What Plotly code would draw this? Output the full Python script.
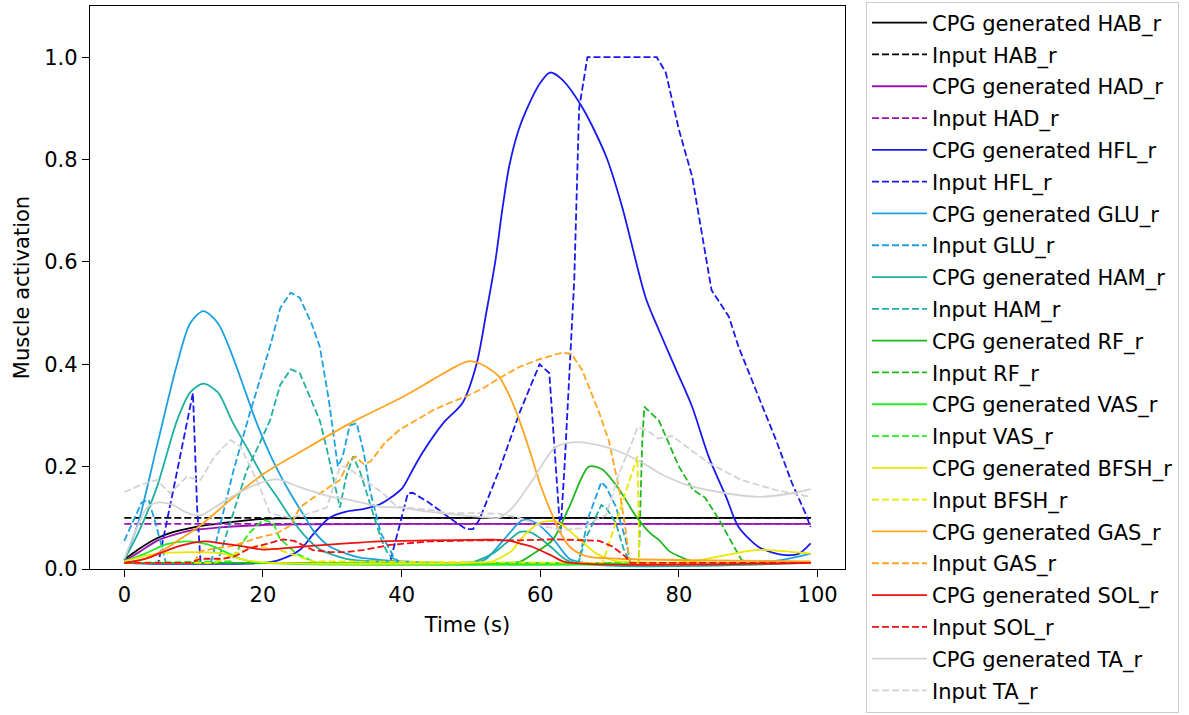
import plotly.graph_objects as go

# ---------------- data ----------------
t_hab_cpg = [0, 2, 4.7, 7, 9.5, 12, 14.3, 17, 19, 22, 30, 50, 70, 99]
v_hab_cpg = [0.018, 0.038, 0.06, 0.072, 0.08, 0.086, 0.09, 0.094, 0.097, 0.099, 0.1, 0.1, 0.1, 0.1]
t_hab_in = [0, 99]
v_hab_in = [0.1, 0.1]

t_had_cpg = [0, 2, 4.7, 7, 9.5, 12, 14.3, 17, 20, 25, 40, 99]
v_had_cpg = [0.015, 0.032, 0.055, 0.066, 0.075, 0.079, 0.082, 0.084, 0.086, 0.087, 0.088, 0.088]
t_had_in = [0, 99]
v_had_in = [0.088, 0.088]

t_hfl_cpg = [0, 5, 10, 15, 20, 22.4, 25.3, 27.2, 29.6, 32, 34.4, 36.8, 38.7, 40.1, 41.6, 43, 46,
             48.8, 50.8, 52.2, 53.5, 54.5, 55.5, 56.8, 58, 60, 61.4, 63, 66, 69.5, 71.8, 75.2, 77.1, 79.5,
             81.9, 84.3, 86.8, 88.6, 91.5, 93.5, 95.4, 97.3, 99]
v_hfl_cpg = [0.012, 0.01, 0.01, 0.01, 0.012, 0.018, 0.037, 0.067, 0.1, 0.112, 0.117, 0.126, 0.142,
             0.158, 0.194, 0.227, 0.285, 0.325, 0.4, 0.5, 0.6, 0.7, 0.786, 0.855, 0.897, 0.95, 0.97, 0.958,
             0.903, 0.806, 0.708, 0.53, 0.467, 0.392, 0.317, 0.219, 0.141, 0.082, 0.043, 0.032,
             0.027, 0.03, 0.05]
t_hfl_in = [0, 4.9, 7, 9.9, 10.5, 11, 38.3, 40.9, 41.6, 44, 47.3, 49.3, 50.3, 51.2, 54.1, 57, 59.9,
            61.3, 62.9, 63.5, 64.9, 65.6, 66.8, 76.8, 78.1, 80, 81.9, 83.3, 84.7, 87.2, 88.6,
            91.5, 94, 96.3, 98.2, 99]
v_hfl_in = [0.012, 0.012, 0.15, 0.344, 0.12, 0.012, 0.012, 0.148, 0.149, 0.129, 0.096, 0.078,
            0.078, 0.096, 0.194, 0.305, 0.4, 0.383, 0.07, 0.2, 0.565, 0.9, 1.0, 1.0, 0.97, 0.858,
            0.767, 0.657, 0.545, 0.493, 0.434, 0.336, 0.252, 0.168, 0.11, 0.082]

t_glu_cpg = [0, 2, 4.7, 7.6, 9.5, 11.4, 13.5, 15.5, 17.5, 19.1, 21.5, 23.9, 26.3, 27.2, 29.5, 32,
             34, 36.8, 40, 50, 52, 55.1, 57.5, 59.4, 61.8, 64.2, 66, 90, 95, 99]
v_glu_cpg = [0.018, 0.09, 0.24, 0.4, 0.48, 0.504, 0.48, 0.42, 0.345, 0.285, 0.21, 0.149, 0.096,
             0.076, 0.045, 0.03, 0.022, 0.018, 0.015, 0.013, 0.018, 0.063, 0.096, 0.09, 0.06,
             0.02, 0.013, 0.012, 0.018, 0.03]
t_glu_in = [0, 2.5, 3.5, 4.5, 6, 12.5, 15.7, 18, 21, 22.5, 24, 25.3, 27, 28.2, 29.5, 30.8, 31.5,
            32.5, 33.5, 34.5, 35.5, 37, 39, 40, 65.5, 67, 68.8, 69.5, 70.9, 72.3, 73, 99]
v_glu_in = [0.055, 0.13, 0.135, 0.09, 0.012, 0.012, 0.19, 0.3, 0.434, 0.51, 0.54, 0.53, 0.48,
            0.434, 0.33, 0.2, 0.22, 0.28, 0.285, 0.23, 0.15, 0.07, 0.02, 0.012, 0.012, 0.103,
            0.17, 0.16, 0.122, 0.058, 0.012, 0.012]

t_ham_cpg = [0, 2, 4.7, 7.6, 9.5, 11.4, 13.5, 15.5, 18.1, 20, 22, 24, 26, 28, 30, 32, 36, 50,
             53.1, 55, 57, 58.5, 60, 61.8, 64.2, 99]
v_ham_cpg = [0.018, 0.07, 0.16, 0.29, 0.345, 0.362, 0.345, 0.29, 0.227, 0.18, 0.141, 0.1, 0.065,
             0.04, 0.028, 0.02, 0.015, 0.013, 0.03, 0.05, 0.072, 0.072, 0.06, 0.04, 0.015, 0.012]
t_ham_in = [0, 13.4, 15.5, 17.7, 19.5, 21, 22.5, 24, 25.3, 27, 28.2, 29.2, 30.1, 31.1, 32, 33,
            34, 35.8, 37, 38, 39.5, 65.5, 66.5, 68.8, 69.5, 70.9, 72, 73, 99]
v_ham_in = [0.012, 0.012, 0.1, 0.194, 0.245, 0.29, 0.36, 0.39, 0.383, 0.33, 0.29, 0.235, 0.18,
            0.12, 0.18, 0.22, 0.19, 0.109, 0.06, 0.03, 0.012, 0.012, 0.058, 0.125, 0.12, 0.09,
            0.04, 0.012, 0.012]

t_rf_cpg = [0, 20, 55, 57, 59, 61.8, 64.2, 67, 68.9, 71.4, 73.8, 76, 77.1, 78.6, 80, 82, 84, 99]
v_rf_cpg = [0.012, 0.012, 0.012, 0.014, 0.03, 0.057, 0.122, 0.2, 0.195, 0.155, 0.103, 0.068,
            0.057, 0.035, 0.025, 0.015, 0.012, 0.012]
t_rf_in = [0, 74.2, 74.7, 75, 77.1, 80, 82, 83.8, 85.8, 87.7, 89, 90, 99]
v_rf_in = [0.012, 0.012, 0.246, 0.317, 0.29, 0.2, 0.155, 0.139, 0.096, 0.05, 0.018, 0.012, 0.012]

t_vas_cpg = [0, 3, 6, 9, 12, 14.3, 16.7, 19, 99]
v_vas_cpg = [0.015, 0.03, 0.048, 0.054, 0.048, 0.035, 0.02, 0.013, 0.012]
t_vas_in = [0, 15.3, 16.5, 18, 20, 21.5, 22.4, 24.8, 27.2, 28, 99]
v_vas_in = [0.012, 0.015, 0.04, 0.07, 0.096, 0.09, 0.06, 0.03, 0.015, 0.012, 0.012]

t_bfsh_cpg = [0, 4.7, 9.5, 14.3, 16.7, 20, 50, 53.1, 56, 57, 58, 59.9, 62.3, 65.2, 68, 70.4, 75,
              80, 82, 86, 91, 95, 99]
v_bfsh_cpg = [0.015, 0.03, 0.033, 0.03, 0.02, 0.013, 0.012, 0.015, 0.037, 0.055, 0.07, 0.09,
              0.093, 0.063, 0.031, 0.017, 0.013, 0.013, 0.015, 0.025, 0.037, 0.035, 0.03]
t_bfsh_in = [0, 13, 16, 19, 22.4, 25, 27.2, 69, 74, 74.3, 99]
v_bfsh_in = [0.012, 0.012, 0.03, 0.045, 0.037, 0.025, 0.015, 0.012, 0.22, 0.012, 0.012]

t_gas_cpg = [0, 3, 6, 8, 10.5, 15.3, 20, 25.3, 33, 40, 44.5, 48, 49.8, 51.5, 53, 54.1, 55.5, 57,
             58.5, 60, 61.8, 62.7, 64.2, 66.6, 71.4, 99]
v_gas_cpg = [0.012, 0.02, 0.04, 0.058, 0.08, 0.135, 0.185, 0.228, 0.288, 0.335, 0.37, 0.397,
             0.406, 0.4, 0.388, 0.375, 0.34, 0.29, 0.23, 0.165, 0.103, 0.076, 0.044, 0.025, 0.02,
             0.015]
t_gas_in = [0, 10, 11, 13, 15.7, 19, 22, 24, 25.3, 26.8, 29, 31.1, 32.5, 33.3, 34.5, 35.5, 37.5,
            39.7, 42, 44.5, 47, 49.3, 52, 54.1, 57, 59.9, 63.2, 64.5, 66, 68.5, 69.9, 71.4, 72.3,
            72.9, 99]
v_gas_in = [0.012, 0.012, 0.035, 0.04, 0.045, 0.06, 0.07, 0.085, 0.12, 0.135, 0.155, 0.174,
            0.213, 0.22, 0.205, 0.21, 0.245, 0.272, 0.29, 0.31, 0.325, 0.337, 0.355, 0.373,
            0.395, 0.41, 0.423, 0.42, 0.39, 0.305, 0.25, 0.155, 0.077, 0.012, 0.012]

t_sol_cpg = [0, 3, 5, 8, 11.5, 14, 16.7, 20, 22.4, 27, 32, 36.8, 44, 51.2, 54, 56, 57, 58.9,
             61.8, 63.5, 99]
v_sol_cpg = [0.012, 0.02, 0.03, 0.045, 0.054, 0.05, 0.045, 0.038, 0.04, 0.045, 0.05, 0.054,
             0.056, 0.057, 0.057, 0.054, 0.05, 0.043, 0.025, 0.014, 0.012]
t_sol_in = [0, 9.5, 11, 14.3, 16, 18, 20, 22.9, 24.5, 27.2, 29.6, 32, 34.4, 38.3, 44, 51.2, 57,
            61.8, 66.6, 68.5, 70.4, 72.3, 73, 99]
v_sol_in = [0.012, 0.012, 0.02, 0.02, 0.025, 0.04, 0.047, 0.058, 0.055, 0.037, 0.033, 0.033,
            0.037, 0.047, 0.054, 0.056, 0.056, 0.058, 0.056, 0.055, 0.044, 0.024, 0.012, 0.012]

t_ta_cpg = [0, 1.5, 3.3, 5, 7, 9, 11, 13, 16, 19, 22, 25.3, 29.6, 32.5, 36.8, 39.7, 44, 51.2, 54,
            56, 58.9, 62.2, 65.6, 70.9, 75.7, 77.1, 81, 86.8, 91.5, 96.3, 99]
v_ta_cpg = [0.02, 0.07, 0.12, 0.13, 0.125, 0.11, 0.105, 0.12, 0.145, 0.165, 0.175, 0.16, 0.142,
            0.135, 0.122, 0.12, 0.112, 0.102, 0.1, 0.12, 0.174, 0.238, 0.248, 0.232, 0.2, 0.188,
            0.165, 0.148, 0.141, 0.148, 0.156]
t_ta_in = [0, 2.5, 4.7, 6.6, 9, 11, 13, 15.3, 16.7, 19.1, 21, 24, 27, 29.2, 31.1, 32, 37.3, 39.3,
           44.5, 46.5, 51.2, 54, 57, 60, 63.2, 66, 68.5, 69.5, 71.4, 73.3, 74, 75.5, 77, 79,
           81, 84.3, 89, 94, 99]
v_ta_in = [0.15, 0.165, 0.174, 0.148, 0.18, 0.174, 0.22, 0.252, 0.24, 0.174, 0.109, 0.1, 0.11,
           0.12, 0.2, 0.2, 0.148, 0.122, 0.115, 0.109, 0.109, 0.108, 0.1, 0.085, 0.076, 0.08,
           0.1, 0.105, 0.188, 0.25, 0.277, 0.27, 0.255, 0.26, 0.24, 0.207, 0.174, 0.154, 0.141]

muscles = ["HAB_r", "HAD_r", "HFL_r", "GLU_r", "HAM_r", "RF_r", "VAS_r", "BFSH_r", "GAS_r", "SOL_r", "TA_r"]
colors = ["#000000", "#9a14b4", "#1a1aee", "#1da1e2", "#1fb0a0", "#1eb81e", "#22ee22",
          "#e8e800", "#ffa520", "#ee1111", "#d3d3d3"]
cpg_t = [t_hab_cpg, t_had_cpg, t_hfl_cpg, t_glu_cpg, t_ham_cpg, t_rf_cpg, t_vas_cpg, t_bfsh_cpg, t_gas_cpg, t_sol_cpg, t_ta_cpg]
cpg_v = [v_hab_cpg, v_had_cpg, v_hfl_cpg, v_glu_cpg, v_ham_cpg, v_rf_cpg, v_vas_cpg, v_bfsh_cpg, v_gas_cpg, v_sol_cpg, v_ta_cpg]
in_t = [t_hab_in, t_had_in, t_hfl_in, t_glu_in, t_ham_in, t_rf_in, t_vas_in, t_bfsh_in, t_gas_in, t_sol_in, t_ta_in]
in_v = [v_hab_in, v_had_in, v_hfl_in, v_glu_in, v_ham_in, v_rf_in, v_vas_in, v_bfsh_in, v_gas_in, v_sol_in, v_ta_in]

FONT = "DejaVu Sans"
FS = 21
fig = go.Figure()
k = 0
for m, c, tc, vc, ti, vi in zip(muscles, colors, cpg_t, cpg_v, in_t, in_v):
    fig.add_trace(go.Scatter(x=tc, y=vc, mode="lines", name="CPG generated " + m,
                             legendgroup="g%02d" % k,
                             line=dict(color=c, width=1.8, shape="spline", smoothing=0.8)))
    k += 1
    fig.add_trace(go.Scatter(x=ti, y=vi, mode="lines", name="Input " + m,
                             legendgroup="g%02d" % k,
                             line=dict(color=c, width=1.8, dash="7px,3px")))
    k += 1

axis_common = dict(showline=True, linecolor="black", linewidth=1.4, mirror=True,
                   ticks="outside", ticklen=7, tickwidth=1.4, tickcolor="black",
                   showgrid=False, zeroline=False,
                   tickfont=dict(family=FONT, size=FS, color="black"))
fig.update_xaxes(range=[-4.95, 103.95], tickvals=[0, 20, 40, 60, 80, 100],
                 title=dict(text="Time (s)", font=dict(family=FONT, size=FS, color="black"), standoff=10),
                 **axis_common)
fig.update_yaxes(range=[0, 1.1], tickvals=[0, 0.2, 0.4, 0.6, 0.8, 1.0], tickformat=".1f",
                 title=dict(text="Muscle activation", font=dict(family=FONT, size=FS, color="black"), standoff=8),
                 **axis_common)
fig.update_layout(
    width=1189, height=715,
    margin=dict(l=90, r=344, t=6, b=146, autoexpand=False),
    paper_bgcolor="white", plot_bgcolor="white",
    font=dict(family=FONT, size=FS, color="black"),
    legend=dict(xref="container", yref="container", x=866 / 1189, y=1 - 1.5 / 715,
                xanchor="left", yanchor="top",
                bordercolor="#cccccc", borderwidth=1, bgcolor="white",
                font=dict(family=FONT, size=FS, color="black"),
                tracegroupgap=1.5, itemwidth=55, traceorder="grouped", maxheight=715),
    showlegend=True,
)
fig.write_html("out.html")
